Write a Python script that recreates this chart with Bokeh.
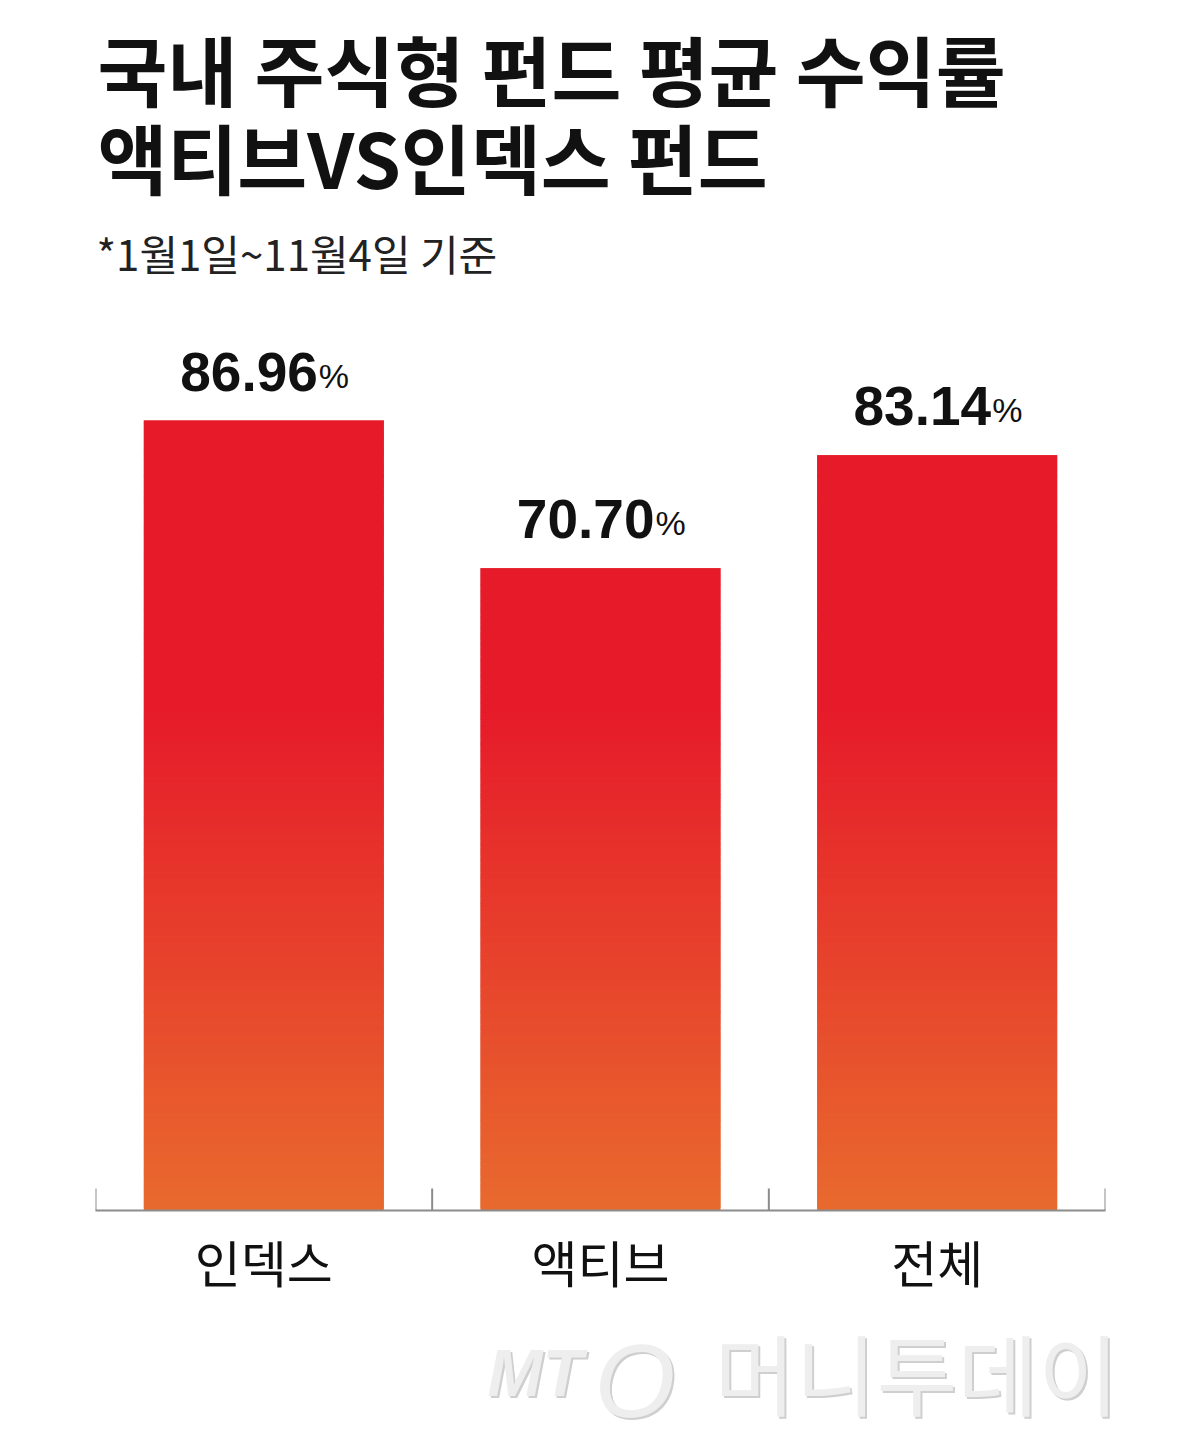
from bokeh.plotting import figure
from bokeh.models import FactorRange, Range1d, ColumnDataSource
from bokeh.layouts import column
from bokeh.core.properties import value
from bokeh.embed import file_html
from bokeh.resources import INLINE

# ---- data ----
title_lines = ["국내 주식형 펀드 평균 수익률", "액티브VS인덱스 펀드"]
subtitle = "*1월1일~11월4일 기준"
categories = ["인덱스", "액티브", "전체"]
returns = [86.96, 70.70, 83.14]
wm_logo = "MT"
wm_ring = "O"
wm_name = "머니투데이"

# ---- layout constants (image pixels) ----
W = 1184
H1 = 1304                      # chart figure height
H2 = 135                       # watermark strip height
FRAME_L, FRAME_R, AXIS_Y = 95, 1105, 1210
PX = 790 / 86.96               # pixels per percentage point
BAND = (FRAME_R - FRAME_L) / len(categories)
frame_h = AXIS_Y
y_end = frame_h / PX


def sx(img_x):
    return (img_x - FRAME_L) / BAND


def sy(img_y):
    return (AXIS_Y - img_y) / PX


p = figure(width=W, height=H1, x_range=FactorRange(*categories, range_padding=0),
           y_range=Range1d(0, y_end), output_backend="svg", toolbar_location=None,
           min_border_left=FRAME_L, min_border_right=W - FRAME_R,
           min_border_top=0, min_border_bottom=H1 - AXIS_Y)
p.outline_line_color = None
p.grid.visible = False
p.yaxis.visible = False
p.background_fill_color = "white"
p.border_fill_color = "white"

# ---- gradient bars (stacked thin slices) ----
RED = (230, 27, 42)
ORANGE = (232, 106, 46)
RED_FROM = 55.0


def grad(v):
    t = min(max(v / RED_FROM, 0.0), 1.0)
    c = tuple(int(round(ORANGE[k] + (RED[k] - ORANGE[k]) * t)) for k in range(3))
    return "#%02x%02x%02x" % c


STEP = 0.25
xs, bots, tops, cols = [], [], [], []
for cat, v in zip(categories, returns):
    b = 0.0
    while b < v:
        t = min(b + STEP, v)
        xs.append(cat)
        bots.append(b)
        tops.append(min(t + 0.2, v))
        cols.append(grad((b + t) / 2))
        b = t
p.vbar(x=xs, bottom=bots, top=tops, width=0.713, fill_color=cols, line_color=None)

# ---- boundary tick marks ----
bounds = list(range(len(categories) + 1))
p.segment(x0=bounds, y0=[0] * len(bounds), x1=bounds, y1=[sy(1188)] * len(bounds),
          line_color="#8c8c8c", line_width=2)

# ---- value labels ----
NUM_GAP = 49 / PX
PCT_GAP = 45 / PX
src = ColumnDataSource(dict(x=categories,
                            yn=[v + NUM_GAP for v in returns],
                            yp=[v + PCT_GAP for v in returns],
                            num=[f"{v:.2f}" for v in returns],
                            pct=["%"] * len(returns)))
p.text(x="x", y="yn", text="num", source=src, x_offset=54,
       text_align="right", text_baseline="middle",
       text_font=value("Liberation Sans"), text_font_style="bold",
       text_font_size="55px", text_color="#111111")
p.text(x="x", y="yp", text="pct", source=src, x_offset=55,
       text_align="left", text_baseline="middle",
       text_font=value("Liberation Sans"), text_font_size="34px",
       text_color="#111111")

# ---- titles ----
TFONT = value("Noto Sans CJK KR")
p.text(x=[sx(97)], y=[sy(67)], text=[title_lines[0]], text_align="left",
       text_baseline="middle", text_font=TFONT,
       text_font_style="bold", text_font_size="76px", text_color="#111111")
p.text(x=[sx(97)], y=[sy(155)], text=[title_lines[1]], text_align="left",
       text_baseline="middle", text_font=TFONT,
       text_font_style="bold", text_font_size="76px", text_color="#111111")
p.text(x=[sx(96)], y=[sy(252)], text=[subtitle], text_align="left",
       text_baseline="middle", text_font=TFONT,
       text_font_size="42px", text_color="#222222")

# ---- axis ----
ax = p.xaxis[0]
ax.axis_line_color = "#8c8c8c"
ax.axis_line_width = 2
ax.major_tick_line_color = None
ax.major_tick_out = 0
ax.major_tick_in = 0
ax.major_label_standoff = 14
ax.major_label_text_font = "Noto Sans CJK KR"
ax.major_label_text_font_size = "50px"
ax.major_label_text_color = "#111111"

# ---- watermark strip ----
w = figure(width=W, height=H2, x_range=Range1d(0, W), y_range=Range1d(0, H2),
           output_backend="svg", toolbar_location=None,
           x_axis_location=None, y_axis_location=None,
           min_border=0, min_border_left=0, min_border_right=0,
           min_border_top=0, min_border_bottom=0)
w.grid.visible = False
w.outline_line_color = None
w.border_fill_color = "white"
for fig in (p, w):
    if "frame_align" in fig.properties():
        fig.frame_align = False


def wy(img_y):
    return H2 - (img_y - H1)


for dx, dy, col in [(2, -2, "#cfcfcf"), (0, 0, "#eeeeee")]:
    w.text(x=[487 + dx], y=[wy(1372) + dy], text=[wm_logo], text_align="left",
           text_baseline="middle", text_font=value("Liberation Sans"),
           text_font_style="bold italic", text_font_size="66px", text_color=col)
    w.text(x=[594 + dx], y=[wy(1380) + dy], text=[wm_ring], text_align="left",
           text_baseline="middle", text_font=value("Liberation Sans"),
           text_font_style="italic", text_font_size="104px", text_color=col)
    w.text(x=[714 + dx], y=[wy(1370) + dy], text=[wm_name], text_align="left",
           text_baseline="middle", text_font=TFONT,
           text_font_size="88px", text_color=col)

layout = column(p, w, spacing=0)
open("out.html", "w").write(file_html(layout, INLINE))
